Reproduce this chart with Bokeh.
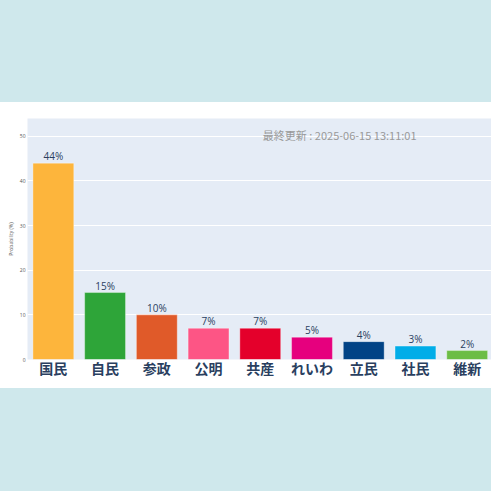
from bokeh.plotting import figure
from bokeh.models import ColumnDataSource, Range1d, FixedTicker, LabelSet, Label, Div
from bokeh.layouts import column
from bokeh.embed import file_html
from bokeh.resources import INLINE
from bokeh.core.properties import value

parties = ["国民", "自民", "参政", "公明", "共産", "れいわ", "立民", "社民", "維新"]
probabilities = [44, 15, 10, 7, 7, 5, 4, 3, 2]
colors = ["#fdb53c", "#2ea539", "#e05a29", "#fd5585", "#e4002b",
          "#e6007e", "#014386", "#01ade8", "#6cbd45"]
y_ticks = [0, 10, 20, 30, 40, 50]
updated = "最終更新 : 2025-06-15 13:11:01"

pos = [i + 0.5 for i in range(len(parties))]
labels = [f"{v}%" for v in probabilities]
src = ColumnDataSource(dict(x=pos, top=probabilities, color=colors, label=labels))

W = 491
p = figure(width=W, height=286, output_backend="svg", toolbar_location=None,
           x_range=Range1d(0, 8.97), y_range=Range1d(0, 54),
           min_border_top=16, min_border_bottom=29, min_border_left=27, min_border_right=0,
           margin=0)
p.border_fill_color = "white"
p.background_fill_color = "#e5ecf6"
p.outline_line_color = None

p.vbar(x="x", top="top", width=0.79, bottom=0, source=src, fill_color="color",
       line_color="white", line_alpha=0.35, line_width=1)

p.add_layout(LabelSet(x="x", y="top", text="label", source=src, y_offset=3,
                      text_align="center", text_baseline="alphabetic",
                      text_font=value("Open Sans"), text_font_size=value("10px"),
                      text_color=value("#2a3f5f")))

p.add_layout(Label(x=4.55, y=50.4, text=updated, text_font="Noto Sans CJK JP",
                   text_font_size="11px", text_color="#999999", text_baseline="middle",
                   text_align="left"))

p.xaxis.ticker = FixedTicker(ticks=pos)
p.xaxis.major_label_overrides = {x: name for x, name in zip(pos, parties)}
p.xaxis.major_label_text_font = "Noto Sans CJK JP"
p.xaxis.major_label_text_font_style = "bold"
p.xaxis.major_label_text_font_size = "14px"
p.xaxis.major_label_text_color = "#2a3f5f"
p.xaxis.major_label_standoff = -2
p.xaxis.axis_line_color = None
p.xaxis.major_tick_line_color = None
p.xaxis.minor_tick_line_color = None
p.xaxis.major_tick_out = 0
p.xgrid.grid_line_color = None

p.yaxis.ticker = FixedTicker(ticks=y_ticks)
p.yaxis.axis_label = "Probability (%)"
p.yaxis.axis_label_text_font = "Open Sans"
p.yaxis.axis_label_text_font_size = "5px"
p.yaxis.axis_label_text_font_style = "normal"
p.yaxis.axis_label_text_color = "#555555"
p.yaxis.axis_label_standoff = 3
p.yaxis.major_label_text_font = "Open Sans"
p.yaxis.major_label_text_font_size = "5px"
p.yaxis.major_label_text_color = "#555555"
p.yaxis.major_label_standoff = 2
p.yaxis.major_tick_out = 0
p.yaxis.axis_line_color = None
p.yaxis.major_tick_line_color = None
p.yaxis.minor_tick_line_color = None
p.ygrid.grid_line_color = "white"
p.ygrid.grid_line_width = 1

top_band = Div(width=W, height=102, margin=0, styles={"background-color": "#cfe8ec"})
bottom_band = Div(width=W, height=103, margin=0, styles={"background-color": "#cfe8ec"})
layout = column(top_band, p, bottom_band, spacing=0, margin=0)

open("out.html", "w").write(file_html(layout, INLINE))
